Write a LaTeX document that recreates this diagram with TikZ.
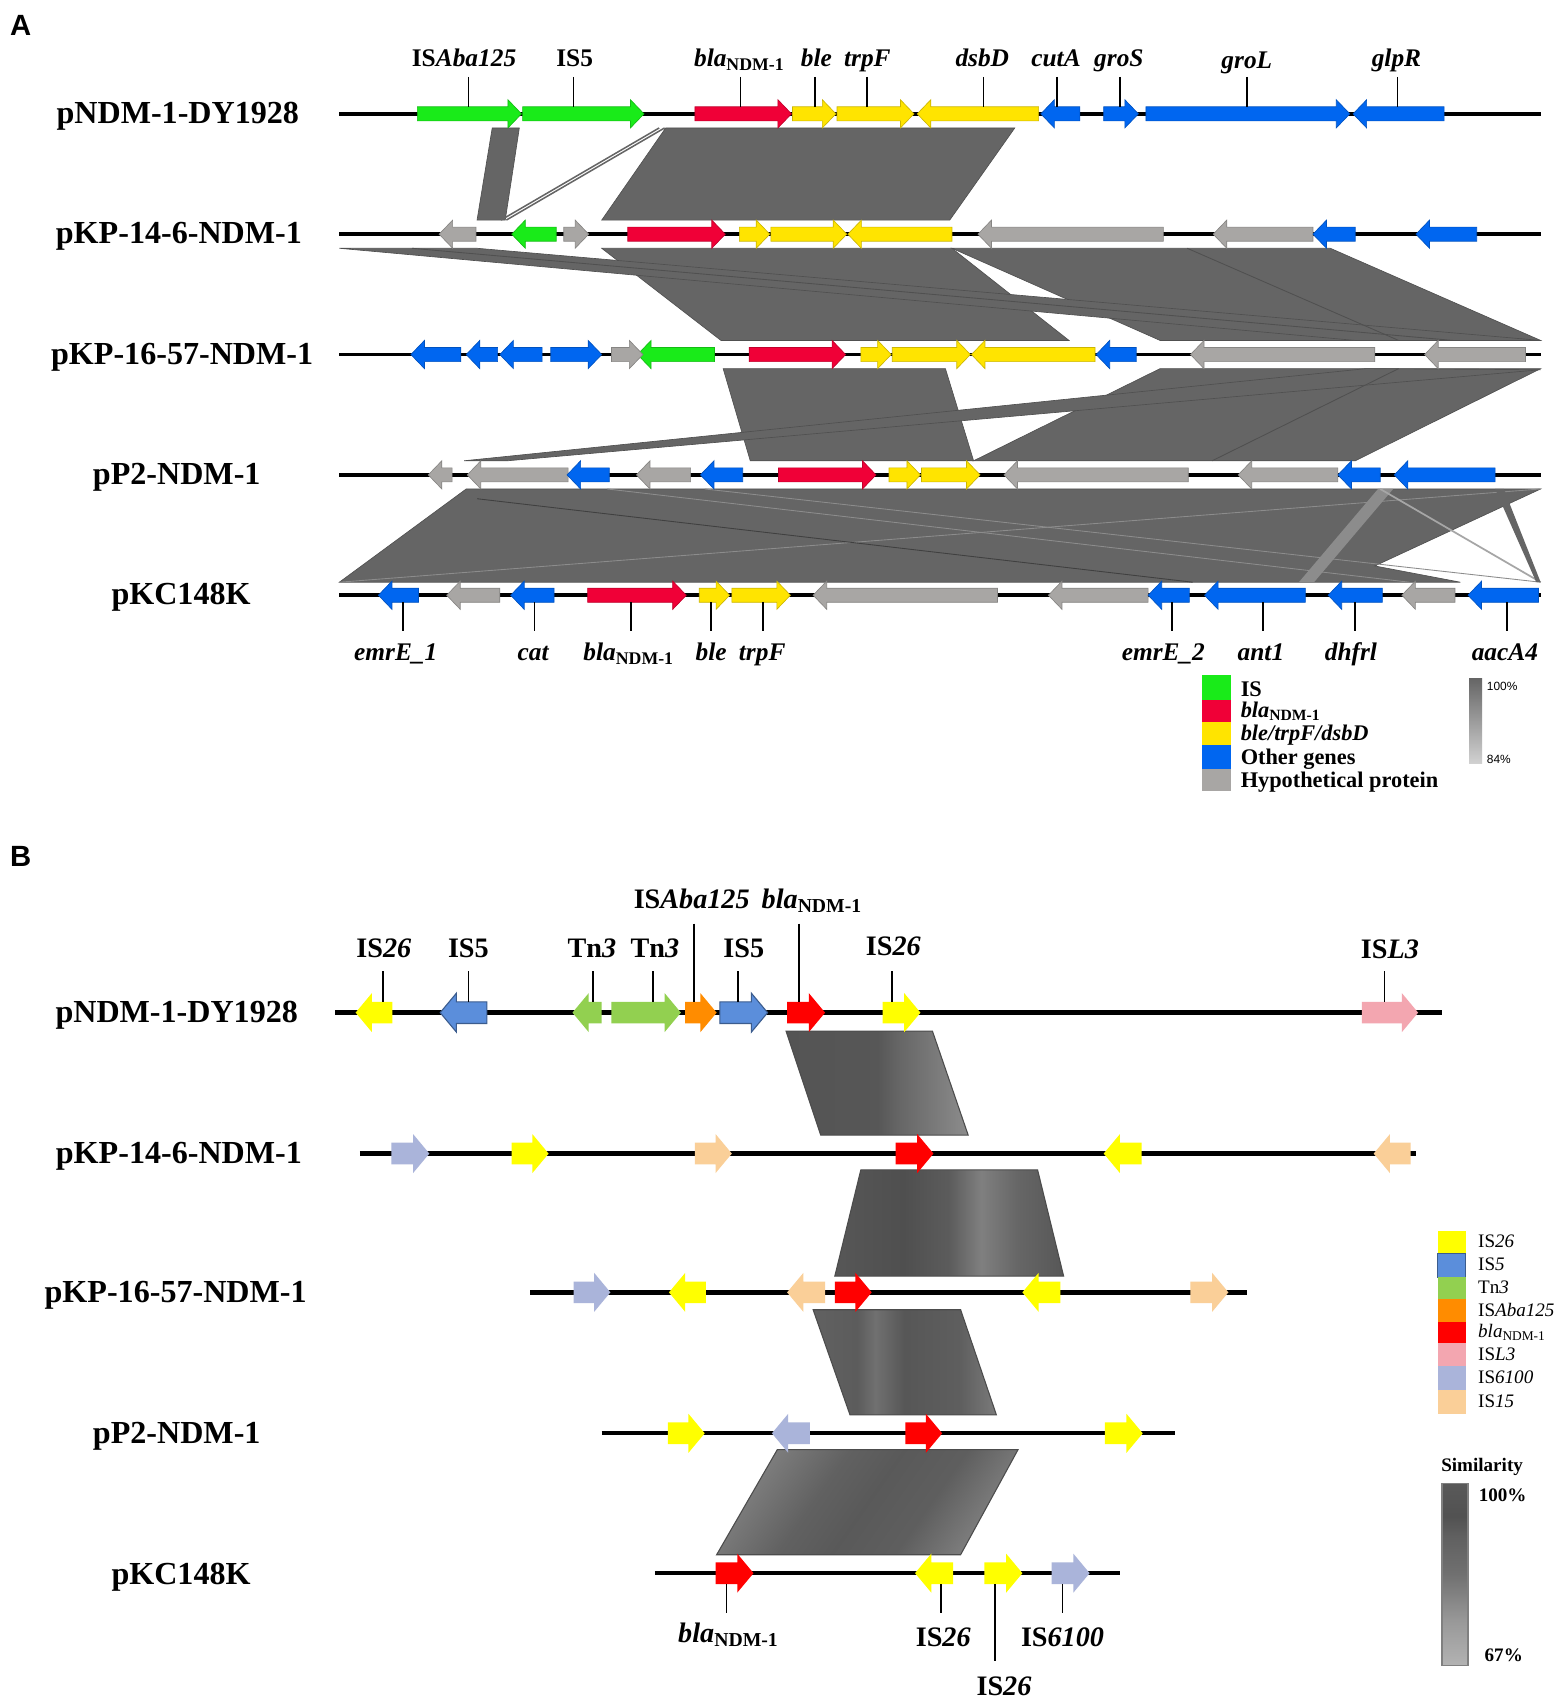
\documentclass[tikz,border=0pt]{standalone}
\usepackage{fontspec}
\setmainfont{Liberation Serif}
\newfontfamily\lsans{Liberation Sans}
\definecolor{cIS}{RGB}{25,235,25}
\definecolor{cNDM}{RGB}{240,0,55}
\definecolor{cYel}{RGB}{255,228,0}
\definecolor{cBlue}{RGB}{0,102,240}
\definecolor{cHyp}{RGB}{168,166,164}
\definecolor{alnc}{RGB}{101,101,101}
\definecolor{alnd}{RGB}{80,80,80}
\definecolor{bY}{RGB}{255,255,0}
\definecolor{bB}{RGB}{91,142,219}
\definecolor{bG}{RGB}{146,208,80}
\definecolor{bO}{RGB}{255,140,0}
\definecolor{bR}{RGB}{255,0,0}
\definecolor{bP}{RGB}{243,166,176}
\definecolor{bL}{RGB}{170,180,218}
\definecolor{bT}{RGB}{250,207,152}
\pgfdeclarehorizontalshading{shBa}{100bp}{rgb(0bp)=(.33,.33,.33); rgb(25bp)=(.33,.33,.33); rgb(50bp)=(.34,.34,.34); rgb(56bp)=(.40,.40,.40); rgb(75bp)=(.55,.55,.55); rgb(100bp)=(.55,.55,.55)}
\pgfdeclarehorizontalshading{shBb}{100bp}{rgb(0bp)=(.34,.34,.34); rgb(25bp)=(.34,.34,.34); rgb(40bp)=(.31,.31,.31); rgb(50bp)=(.36,.36,.36); rgb(57bp)=(.50,.50,.50); rgb(65bp)=(.40,.40,.40); rgb(75bp)=(.34,.34,.34); rgb(100bp)=(.34,.34,.34)}
\pgfdeclarehorizontalshading{shBc}{100bp}{rgb(0bp)=(.38,.38,.38); rgb(25bp)=(.38,.38,.38); rgb(37bp)=(.36,.36,.36); rgb(42bp)=(.44,.44,.44); rgb(50bp)=(.34,.34,.34); rgb(65bp)=(.37,.37,.37); rgb(75bp)=(.48,.48,.48); rgb(100bp)=(.48,.48,.48)}
\pgfdeclarehorizontalshading{shBd}{100bp}{rgb(0bp)=(.50,.50,.50); rgb(25bp)=(.50,.50,.50); rgb(40bp)=(.38,.38,.38); rgb(50bp)=(.35,.35,.35); rgb(62bp)=(.37,.37,.37); rgb(75bp)=(.50,.50,.50); rgb(100bp)=(.50,.50,.50)}
\pgfdeclareverticalshading{shSim}{100bp}{rgb(0bp)=(.70,.70,.70); rgb(25bp)=(.70,.70,.70); rgb(37bp)=(.60,.60,.60); rgb(50bp)=(.44,.44,.44); rgb(60bp)=(.38,.38,.38); rgb(66bp)=(.32,.32,.32); rgb(75bp)=(.35,.35,.35); rgb(100bp)=(.35,.35,.35)}
\def\gsh{6.5}\def\ghh{13}\def\ghl{12.5}
\newcommand\rarr[4]{\path[#4] (#1,#3-\gsh) -- (#2-\ghl,#3-\gsh) -- (#2-\ghl,#3-\ghh) -- (#2,#3) -- (#2-\ghl,#3+\ghh) -- (#2-\ghl,#3+\gsh) -- (#1,#3+\gsh) -- cycle;}
\newcommand\larr[4]{\path[#4] (#2,#3-\gsh) -- (#1+\ghl,#3-\gsh) -- (#1+\ghl,#3-\ghh) -- (#1,#3) -- (#1+\ghl,#3+\ghh) -- (#1+\ghl,#3+\gsh) -- (#2,#3+\gsh) -- cycle;}
\newcommand\blaN{\textit{bla}\textsubscript{NDM-1}}
\begin{document}
\begin{tikzpicture}[x=0.5pt,y=-0.5pt,
  panel/.style={font=\lsans\bfseries\fontsize{13.5}{15}\selectfont, inner sep=0},
  rowlab/.style={font=\bfseries\fontsize{14.8}{17}\selectfont, anchor=base, inner sep=0},
  glabA/.style={font=\bfseries\fontsize{11.7}{14}\selectfont, anchor=base, inner sep=0},
  glabB/.style={font=\bfseries\fontsize{13}{15}\selectfont, anchor=base, inner sep=0},
  legA/.style={font=\bfseries\fontsize{10.3}{12}\selectfont, anchor=base west, inner sep=0},
  legB/.style={font=\fontsize{8.8}{10}\selectfont, anchor=base west, inner sep=0},
  pctA/.style={font=\lsans\fontsize{5.5}{6}\selectfont, anchor=west, inner sep=0},
  simt/.style={font=\bfseries\fontsize{8.8}{10}\selectfont, inner sep=0},
  bbA/.style={line width=1.7pt, black},
  bbB/.style={line width=2pt, black},
  lab/.style={line width=0.8pt, black},
  aln/.style={fill=alnc, draw=alnd, line width=0.3pt},
  alnline/.style={draw=alnd, line width=0.4pt},
  gIS/.style={fill=cIS, draw=cIS!80!black, line width=0.3pt},
  gNDM/.style={fill=cNDM, draw=cNDM!80!black, line width=0.3pt},
  gY/.style={fill=cYel, draw=cYel!80!black, line width=0.3pt},
  gB/.style={fill=cBlue, draw=cBlue!80!black, line width=0.3pt},
  gH/.style={fill=cHyp, draw=cHyp!80!black, line width=0.3pt},
  bY/.style={fill=bY},
  bB/.style={fill=bB, draw=bB!65!black, line width=0.5pt},
  bG/.style={fill=bG},
  bO/.style={fill=bO},
  bR/.style={fill=bR},
  bP/.style={fill=bP},
  bL/.style={fill=bL},
  bT/.style={fill=bT},
  alnB/.style={draw=black!70, line width=0.5pt}]
\useasboundingbox (0,0) rectangle (1441,1568);
\fill[white] (0,0) rectangle (1441,1568);

\node[panel] (pA) at (19,23) {A};
\node[panel] (pB) at (19,790) {B};

% ---------------- Panel A ----------------
\node[rowlab] (a1) at (164,114) {pNDM-1-DY1928};
\node[rowlab] (a2) at (165,225) {pKP-14-6-NDM-1};
\node[rowlab] (a3) at (168,336) {pKP-16-57-NDM-1};
\node[rowlab] (a4) at (163,447) {pP2-NDM-1};
\node[rowlab] (a5) at (167,558) {pKC148K};

% alignments 1-2
\path[aln] (454,118) -- (479,118) -- (466,203) -- (440,203) -- cycle;
\draw[alnc, line width=0.7pt] (608,118) -- (462,203);
\draw[alnc, line width=0.7pt] (613,118) -- (467,203);
\path[aln] (614,118) -- (936,118) -- (876,203) -- (555,203) -- cycle;
% alignments 2-3
\path[aln] (555,229) -- (878,229) -- (986,314) -- (665,314) -- cycle;
\path[aln] (878,229) -- (1227,229) -- (1421,314) -- (1070,314) -- cycle;
\path[aln] (313,229) -- (440,229) -- (1421,314) -- (1250,314) -- cycle;
\draw[alnline] (380,229) -- (1340,314);
\draw[alnline] (1095,229) -- (1290,314);
% alignments 3-4
\path[aln] (667,340) -- (872,340) -- (898,425) -- (692,425) -- cycle;
\path[aln] (1070,340) -- (1421,340) -- (1250,425) -- (898,425) -- cycle;
\path[aln] (428,425) -- (468,425) -- (1421,341) -- (1260,340) -- cycle;
\draw[alnline] (1290,340) -- (1118,425);
% alignments 4-5
\path[aln] (430,451) -- (1421,451) -- (1268,522) -- (1347,537) -- (313,537) -- cycle;
\draw[draw=black!45, line width=0.4pt] (313,537) -- (1421,451);
\draw[draw=black!45, line width=0.4pt] (560,451) -- (1300,537);
\draw[draw=black!45, line width=0.4pt] (650,451) -- (1421,537);
\draw[draw=black!75, line width=0.4pt] (440,460) -- (1100,537);
\path[fill=black!45] (1271,451) -- (1285,451) -- (1212,537) -- (1198,537) -- cycle;
\draw[draw=black!35, line width=0.8pt] (1273,451) -- (1421,537);
\path[fill=alnc] (1379,451) -- (1387,451) -- (1421,537) -- (1417,537) -- cycle;

% backbones
\draw[bbA] (313,105) -- (1421,105);
\draw[bbA] (313,216) -- (1421,216);
\draw[bbA] (313,327) -- (1421,327);
\draw[bbA] (313,438) -- (1421,438);
\draw[bbA] (313,549) -- (1421,549);

% row 1
\rarr{385}{481}{105}{gIS}
\rarr{482}{594}{105}{gIS}
\rarr{641}{730}{105}{gNDM}
\rarr{731}{771}{105}{gY}
\rarr{772}{843}{105}{gY}
\larr{846}{958}{105}{gY}
\larr{960}{996}{105}{gB}
\rarr{1018}{1050}{105}{gB}
\rarr{1057}{1245}{105}{gB}
\larr{1248}{1332}{105}{gB}
% row 2
\larr{405}{439}{216}{gH}
\larr{472}{513}{216}{gIS}
\rarr{520}{543}{216}{gH}
\rarr{579}{669}{216}{gNDM}
\rarr{682}{710}{216}{gY}
\rarr{711}{781}{216}{gY}
\larr{782}{878}{216}{gY}
\larr{902}{1073}{216}{gH}
\larr{1119}{1211}{216}{gH}
\larr{1211}{1250}{216}{gB}
\larr{1306}{1362}{216}{gB}
% row 3
\larr{379}{425}{327}{gB}
\larr{430}{459}{327}{gB}
\larr{461}{500}{327}{gB}
\rarr{508}{555}{327}{gB}
\larr{588}{659}{327}{gIS}
\rarr{564}{593}{327}{gH}
\rarr{691}{780}{327}{gNDM}
\rarr{794}{822}{327}{gY}
\rarr{823}{895}{327}{gY}
\larr{896}{1010}{327}{gY}
\larr{1011}{1048}{327}{gB}
\larr{1098}{1268}{327}{gH}
\larr{1314}{1407}{327}{gH}
% row 4
\larr{395}{417}{438}{gH}
\larr{431}{524}{438}{gH}
\larr{523}{562}{438}{gB}
\larr{587}{637}{438}{gH}
\larr{646}{685}{438}{gB}
\rarr{718}{808}{438}{gNDM}
\rarr{820}{849}{438}{gY}
\rarr{850}{904}{438}{gY}
\larr{926}{1096}{438}{gH}
\larr{1142}{1234}{438}{gH}
\larr{1234}{1273}{438}{gB}
\larr{1286}{1379}{438}{gB}
% row 5
\larr{349}{386}{549}{gB}
\larr{412}{461}{549}{gH}
\larr{471}{511}{549}{gB}
\rarr{542}{633}{549}{gNDM}
\rarr{645}{673}{549}{gY}
\rarr{675}{729}{549}{gY}
\larr{750}{920}{549}{gH}
\larr{967}{1059}{549}{gH}
\larr{1059}{1097}{549}{gB}
\larr{1111}{1204}{549}{gB}
\larr{1225}{1275}{549}{gB}
\larr{1293}{1342}{549}{gH}
\larr{1354}{1419}{549}{gB}

% top labels A
\node[glabA] (t1) at (428,61) {IS\textit{Aba125}};
\node[glabA] (t2) at (530,61) {IS5};
\node[glabA] (t3) at (682,61) {\blaN};
\node[glabA] (t4) at (753,61) {\textit{ble}};
\node[glabA] (t5) at (800,61) {\textit{trpF}};
\node[glabA] (t6) at (906,61) {\textit{dsbD}};
\node[glabA] (t7) at (974,61) {\textit{cutA}};
\node[glabA] (t8) at (1032,61) {\textit{groS}};
\node[glabA] (t9) at (1150,63) {\textit{groL}};
\node[glabA] (t10) at (1288,61) {\textit{glpR}};
\foreach \x in {432,529,683,752,800,907,975,1033,1150,1289}
  \draw[lab] (\x,71) -- (\x,98.5);

% bottom labels A
\foreach \x in {372,493,582,656,704,1081,1165,1250,1390}
  \draw[lab] (\x,555.5) -- (\x,582);
\node[glabA] (u1) at (365,609) {\textit{emrE\_1}};
\node[glabA] (u2) at (492,609) {\textit{cat}};
\node[glabA] (u3) at (580,609) {\blaN};
\node[glabA] (u4) at (656,609) {\textit{ble}};
\node[glabA] (u5) at (703,609) {\textit{trpF}};
\node[glabA] (u6) at (1073,609) {\textit{emrE\_2}};
\node[glabA] (u7) at (1163,609) {\textit{ant1}};
\node[glabA] (u8) at (1246,609) {\textit{dhfrl}};
\node[glabA] (u9) at (1388,609) {\textit{aacA4}};

% legend A
\fill[cIS] (1109,623) rectangle (1135,646);
\fill[cNDM] (1109,646) rectangle (1135,666);
\fill[cYel] (1109,666) rectangle (1135,687);
\fill[cBlue] (1109,687) rectangle (1135,709);
\fill[cHyp] (1109,709) rectangle (1135,730);
\node[legA] (la1) at (1144,642) {IS};
\node[legA] (la2) at (1144,662) {\blaN};
\node[legA] (la3) at (1144,683) {\textit{ble/trpF/dsbD}};
\node[legA] (la4) at (1144,705) {Other genes};
\node[legA] (la5) at (1144,726) {Hypothetical protein};
\shade[top color=black!60, bottom color=black!18] (1355,626) rectangle (1367,704);
\node[pctA] (pa1) at (1371,633) {100\%};
\node[pctA] (pa2) at (1371,700) {84\%};

% ---------------- Panel B ----------------
\node[rowlab] (b1) at (163,943) {pNDM-1-DY1928};
\node[rowlab] (b2) at (165,1073) {pKP-14-6-NDM-1};
\node[rowlab] (b3) at (162,1201) {pKP-16-57-NDM-1};
\node[rowlab] (b4) at (163,1331) {pP2-NDM-1};
\node[rowlab] (b5) at (167,1461) {pKC148K};

% alignments B
\shade[shading=shBa, alnB] (725,951) -- (860,951) -- (893,1047) -- (757,1047) -- cycle;
\shade[shading=shBb, alnB] (794,1079) -- (957,1079) -- (981,1177) -- (770,1177) -- cycle;
\shade[shading=shBc, alnB] (750,1208) -- (886,1208) -- (919,1305) -- (784,1305) -- cycle;
\shade[shading=shBd, shading angle=-35, alnB] (717,1337) -- (939,1337) -- (886,1434) -- (661,1434) -- cycle;

\draw[bbB] (309,934) -- (1330,934);
\draw[bbB] (332,1064) -- (1306,1064);
\draw[bbB] (489,1192) -- (1150,1192);
\draw[bbB] (555,1322) -- (1084,1322);
\draw[bbB] (604,1451) -- (1033,1451);

\def\gsh{10}\def\ghh{18}\def\ghl{15}
% B1
\larr{328}{362}{934}{bY}
\larr{406}{449}{934}{bB}
\larr{528}{555}{934}{bG}
\rarr{564}{628}{934}{bG}
\rarr{632}{661}{934}{bO}
\rarr{664}{708}{934}{bB}
\rarr{726}{761}{934}{bR}
\rarr{814}{849}{934}{bY}
\rarr{1256}{1308}{934}{bP}
% B2
\rarr{361}{396}{1064}{bL}
\rarr{472}{506}{1064}{bY}
\rarr{641}{675}{1064}{bT}
\rarr{826}{861}{1064}{bR}
\larr{1018}{1053}{1064}{bY}
\larr{1267}{1301}{1064}{bT}
% B3
\rarr{529}{563}{1192}{bL}
\larr{617}{651}{1192}{bY}
\larr{726}{761}{1192}{bT}
\rarr{770}{804}{1192}{bR}
\larr{943}{978}{1192}{bY}
\rarr{1098}{1133}{1192}{bT}
% B4
\rarr{616}{650}{1322}{bY}
\larr{712}{747}{1322}{bL}
\rarr{835}{869}{1322}{bR}
\rarr{1019}{1054}{1322}{bY}
% B5
\rarr{660}{695}{1451}{bR}
\larr{844}{879}{1451}{bY}
\rarr{908}{943}{1451}{bY}
\rarr{970}{1005}{1451}{bL}

% labels B1
\node[glabB] (s1) at (354,883) {IS\textit{26}};
\node[glabB] (s2) at (432,883) {IS5};
\node[glabB] (s3) at (546,883) {Tn\textit{3}};
\node[glabB] (s4) at (604,883) {Tn\textit{3}};
\node[glabB] (s5) at (686,883) {IS5};
\node[glabB] (s6) at (638,838) {IS\textit{Aba125}};
\node[glabB] (s7) at (749,838) {\blaN};
\node[glabB] (s8) at (824,881) {IS\textit{26}};
\node[glabB] (s9) at (1282,884) {IS\textit{L3}};
\foreach \x in {353,432,547,602,681,823,1277}
  \draw[lab] (\x,896) -- (\x,924);
\draw[lab] (640,852) -- (640,924);
\draw[lab] (737,852) -- (737,924);

% labels B5
\draw[lab] (670,1461) -- (670,1488);
\draw[lab] (868,1461) -- (868,1488);
\draw[lab] (918,1461) -- (918,1532);
\draw[lab] (980,1461) -- (980,1488);
\node[glabB] (v1) at (672,1515) {\blaN};
\node[glabB] (v2) at (870,1519) {IS\textit{26}};
\node[glabB] (v3) at (926,1564) {IS\textit{26}};
\node[glabB] (v4) at (980,1519) {IS\textit{6100}};

% legend B
\fill[bY] (1326,1135) rectangle (1352,1156);
\fill[bB] (1326,1156) rectangle (1352,1178);
\fill[bG] (1326,1178) rectangle (1352,1198);
\fill[bO] (1326,1198) rectangle (1352,1219);
\fill[bR] (1326,1219) rectangle (1352,1239);
\fill[bP] (1326,1239) rectangle (1352,1260);
\fill[bL] (1326,1260) rectangle (1352,1282);
\fill[bT] (1326,1282) rectangle (1352,1304);
\node[legB] (lb1) at (1363,1151) {IS\textit{26}};
\node[legB] (lb2) at (1363,1172) {IS\textit{5}};
\node[legB] (lb3) at (1363,1193) {Tn\textit{3}};
\node[legB] (lb4) at (1363,1214) {IS\textit{Aba125}};
\node[legB] (lb5) at (1363,1234) {\blaN};
\node[legB] (lb6) at (1363,1255) {IS\textit{L3}};
\node[legB] (lb7) at (1363,1276) {IS\textit{6100}};
\node[legB] (lb8) at (1363,1298) {IS\textit{15}};

\node[simt] (sim) at (1367,1353) {Similarity};
\shade[shading=shSim, draw=black!50, line width=0.5pt] (1330,1368) rectangle (1354,1536);
\node[simt] (s100) at (1386,1379) {100\%};
\node[simt] (s67) at (1387,1527) {67\%};
\end{tikzpicture}
\end{document}
